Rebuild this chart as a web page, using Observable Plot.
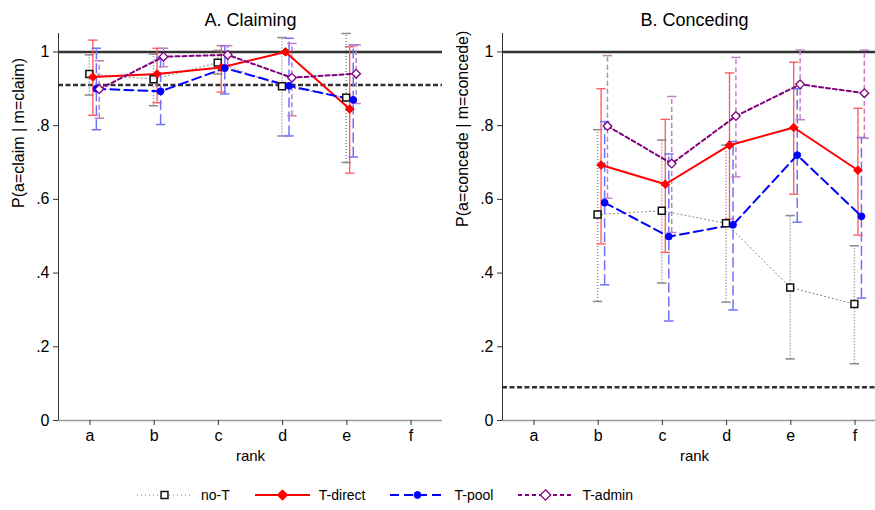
<!DOCTYPE html>
<html>
<head>
<meta charset="utf-8">
<script src="https://cdn.jsdelivr.net/npm/d3@7"></script>
<script src="https://cdn.jsdelivr.net/npm/@observablehq/plot@0.6"></script>
<style>
  body { margin: 0; background: #fff; font-family: "Liberation Sans", Arial, sans-serif; }
  #wrap { position: relative; width: 875px; height: 510px; overflow: hidden; background: #fff; }
  .panel { position: absolute; top: 0; width: 444px; height: 470px; }
  .panel svg { max-width: none !important; }
  #legend { position: absolute; left: 137px; top: 487px; display: flex; align-items: center; gap: 25px; font-size: 14px; color: #000; }
  .item { display: flex; align-items: center; gap: 9px; }
  .item svg { display: block; }
</style>
</head>
<body>
<div id="wrap">
  <div class="panel" id="pA" style="left:0px"></div>
  <div class="panel" id="pB" style="left:444px"></div>
  <div id="legend"></div>
</div>
<script>
// ---------- data ----------
const ranks = ["a", "b", "c", "d", "e", "f"];
const seriesNames = ["no-T", "T-direct", "T-pool", "T-admin"];
const yTicks = [0, 0.2, 0.4, 0.6, 0.8, 1];

// Panel A: Claiming (ranks a–e)
const claimRanks    = ["a", "b", "c", "d", "e"];
const claimNoT      = [0.940, 0.926, 0.971, 0.907, 0.876];
const claimNoTLo    = [0.883, 0.854, 0.940, 0.772, 0.700];
const claimNoTHi    = [0.992, 0.994, 1.004, 1.039, 1.050];
const claimDirect   = [0.932, 0.940, 0.958, 1.000, 0.845];
const claimDirectLo = [0.828, 0.862, 0.891, 1.000, 0.671];
const claimDirectHi = [1.032, 1.010, 1.017, 1.000, 1.014];
const claimPool     = [0.900, 0.893, 0.956, 0.908, 0.870];
const claimPoolLo   = [0.789, 0.803, 0.886, 0.772, 0.715];
const claimPoolHi   = [1.010, 0.985, 1.017, 1.037, 1.019];
const claimAdmin    = [0.899, 0.987, 0.992, 0.930, 0.941];
const claimAdminLo  = [0.820, 0.960, 0.965, 0.827, 0.860];
const claimAdminHi  = [0.976, 1.010, 1.017, 1.023, 1.019];
const claimRef = 0.91;

// Panel B: Conceding (ranks b–f)
const concRanks    = ["b", "c", "d", "e", "f"];
const concNoT      = [0.559, 0.569, 0.535, 0.361, 0.316];
const concNoTLo    = [0.323, 0.373, 0.321, 0.167, 0.154];
const concNoTHi    = [0.789, 0.761, 0.747, 0.556, 0.474];
const concDirect   = [0.693, 0.641, 0.747, 0.795, 0.679];
const concDirectLo = [0.479, 0.456, 0.547, 0.614, 0.503];
const concDirectHi = [0.900, 0.817, 0.943, 0.972, 0.847];
const concPool     = [0.591, 0.499, 0.531, 0.720, 0.554];
const concPoolLo   = [0.368, 0.270, 0.300, 0.538, 0.332];
const concPoolHi   = [0.811, 0.723, 0.757, 0.900, 0.768];
const concAdmin    = [0.799, 0.697, 0.826, 0.912, 0.888];
const concAdminLo  = [0.603, 0.510, 0.661, 0.816, 0.766];
const concAdminHi  = [0.990, 0.879, 0.985, 1.005, 1.005];
const concRef = 0.09;

// ---------- styles ----------
const S = {
  "no-T":     {line: "#808080", lw: 1,   dash: "1,3", bar: "#8a8a8a", bw: 1.5, bdash: "1,2",  sym: "square",   r: 3.9, fill: "white",   mstroke: "#111",    msw: 1.5, off: -0.01},
  "T-direct": {line: "#ff0000", lw: 2,   dash: null,  bar: "#ff5555", bw: 1.3, bdash: null,   sym: "diamond2", r: 3.9, fill: "#ff0000", mstroke: "#ff0000", msw: 1,   off: 0.045},
  "T-pool":   {line: "#0000ff", lw: 2,   dash: "9,5", bar: "#7070ff", bw: 1.5, bdash: "10,4", sym: "circle",   r: 3.4, fill: "#0000ff", mstroke: "#0000ff", msw: 1,   off: 0.10},
  "T-admin":  {line: "#800080", lw: 2,   dash: "4,3", bar: "#c080c8", bw: 1.5, bdash: "5,3",  sym: "diamond2", r: 3.9, fill: "white",   mstroke: "#800080", msw: 1.3, off: 0.145}
};
const xDomain = [0.51, 6.49];
const capSymbol = {draw(ctx, size) { const w = Math.sqrt(size / Math.PI); ctx.moveTo(-w, 0); ctx.lineTo(w, 0); }};
const fmt = d => d === 0 ? "0" : d === 1 ? "1" : d3.format(".1f")(d).replace(/^0/, "");

function rows(rk, v, lo, hi, s) {
  return rk.map((r, i) => ({rank: r, series: s, value: v[i], lo: lo[i], hi: hi[i]}));
}

const claimData = {
  "no-T": rows(claimRanks, claimNoT, claimNoTLo, claimNoTHi, "no-T"),
  "T-direct": rows(claimRanks, claimDirect, claimDirectLo, claimDirectHi, "T-direct"),
  "T-pool": rows(claimRanks, claimPool, claimPoolLo, claimPoolHi, "T-pool"),
  "T-admin": rows(claimRanks, claimAdmin, claimAdminLo, claimAdminHi, "T-admin")
};
const concData = {
  "no-T": rows(concRanks, concNoT, concNoTLo, concNoTHi, "no-T"),
  "T-direct": rows(concRanks, concDirect, concDirectLo, concDirectHi, "T-direct"),
  "T-pool": rows(concRanks, concPool, concPoolLo, concPoolHi, "T-pool"),
  "T-admin": rows(concRanks, concAdmin, concAdminLo, concAdminHi, "T-admin")
};

function panel(data, ref, title, yLabel, labelDy) {
  const marks = [
    Plot.ruleY([1], {stroke: "#333", strokeWidth: 2.5}),
    Plot.ruleY([ref], {stroke: "#333", strokeWidth: 2.5, strokeDasharray: "5,2.5"}),
    Plot.ruleY([0], {stroke: "#9a9a9a", strokeWidth: 1.5}),
    Plot.ruleX([xDomain[0]], {stroke: "#333", strokeWidth: 1})
  ];
  // error bars
  for (const s of seriesNames) {
    const st = S[s];
    const x = d => ranks.indexOf(d.rank) + 1 + st.off;
    const o = {x, stroke: st.bar, strokeWidth: st.bw, strokeDasharray: st.bdash};
    marks.push(Plot.ruleX(data[s], {...o, y1: "lo", y2: "hi"}));
    marks.push(Plot.dot(data[s], {...o, y: "lo", symbol: capSymbol, r: 4.7, fill: "none", strokeDasharray: null}));
    marks.push(Plot.dot(data[s], {...o, y: "hi", symbol: capSymbol, r: 4.7, fill: "none", strokeDasharray: null}));
  }
  // lines + markers
  for (const s of seriesNames) {
    const st = S[s];
    const x = d => ranks.indexOf(d.rank) + 1 + st.off;
    marks.push(Plot.line(data[s], {x, y: "value", stroke: st.line, strokeWidth: st.lw, strokeDasharray: st.dash}));
  }
  for (const s of seriesNames) {
    const st = S[s];
    const x = d => ranks.indexOf(d.rank) + 1 + st.off;
    marks.push(Plot.dot(data[s], {x, y: "value", symbol: st.sym, r: st.r, fill: st.fill, stroke: st.mstroke, strokeWidth: st.msw}));
  }
  marks.push(
    Plot.axisY({ticks: yTicks, tickFormat: fmt, tickSize: 5, tickPadding: 4, label: null, fontSize: 16, stroke: "#333"}),
    Plot.axisX({ticks: [1, 2, 3, 4, 5, 6], tickFormat: i => ranks[i - 1], tickSize: 5, tickPadding: 4, label: null, fontSize: 16, stroke: "#333"}),
    Plot.text([title], {frameAnchor: "top", dy: -13, fontSize: 18, lineAnchor: "middle", fill: "#000"}),
    Plot.text([yLabel], {frameAnchor: "left", dx: -40, dy: labelDy, rotate: -90, fontSize: 16, lineAnchor: "middle", fill: "#000"}),
    Plot.text(["rank"], {frameAnchor: "bottom", dy: 36, fontSize: 15, lineAnchor: "middle", fill: "#000"})
  );
  return Plot.plot({
    width: 444, height: 470,
    marginLeft: 58, marginRight: 2, marginTop: 33, marginBottom: 50,
    x: {type: "linear", domain: xDomain},
    y: {domain: [0, 1.05]},
    style: {fontFamily: "'Liberation Sans', Arial, sans-serif", fontSize: "16px", background: "transparent", overflow: "visible", maxWidth: "none"},
    marks
  });
}

document.getElementById("pA").appendChild(panel(claimData, claimRef, "A. Claiming", "P(a=claim | m=claim)", -19));
document.getElementById("pB").appendChild(panel(concData, concRef, "B. Conceding", "P(a=concede | m=concede)", 0));

// ---------- legend ----------
const legend = d3.select("#legend");
for (const s of seriesNames) {
  const st = S[s];
  const item = legend.append("div").attr("class", "item");
  const svg = item.append("svg").attr("width", 55).attr("height", 16);
  svg.append("line").attr("x1", 0).attr("x2", 55).attr("y1", 8).attr("y2", 8)
    .attr("stroke", st.line).attr("stroke-width", st.lw).attr("stroke-dasharray", st.dash);
  const symType = {square: d3.symbolSquare, diamond2: d3.symbolDiamond2, circle: d3.symbolCircle}[st.sym];
  const rr = st.sym === "diamond2" ? st.r * 1.2 : st.r;
  svg.append("path").attr("transform", "translate(27.5,8)")
    .attr("d", d3.symbol(symType, Math.PI * rr * rr)())
    .attr("fill", st.fill).attr("stroke", st.mstroke).attr("stroke-width", st.msw);
  item.append("span").text(s);
}
</script>
</body>
</html>
